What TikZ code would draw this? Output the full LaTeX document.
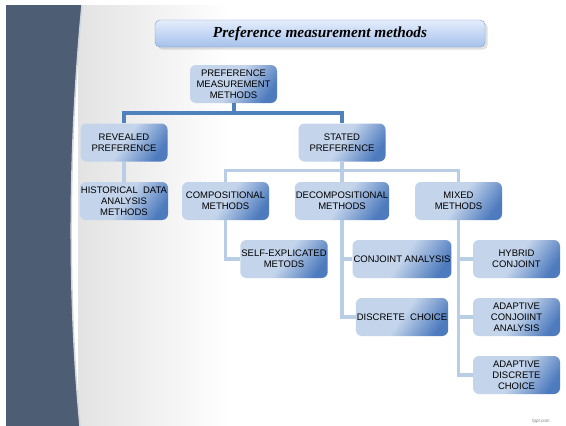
\documentclass[tikz,border=0pt]{standalone}
\usepackage{fontspec}
\setmainfont{Liberation Sans}
\newfontfamily\titlefont{Liberation Serif}
\usetikzlibrary{positioning, calc, shadows}

\definecolor{boxlight}{HTML}{C3D4EB}
\definecolor{boxdark}{HTML}{4E7BBE}
\definecolor{mainblue}{HTML}{4F81BD}
\definecolor{paleblue}{HTML}{B9CDE5}
\definecolor{slate}{HTML}{4D5D73}
\definecolor{titletop}{HTML}{E4EDFC}
\definecolor{titlebottom}{HTML}{A6C1EC}
\definecolor{titleedge}{HTML}{7C9DCB}

\pgfdeclarehorizontalshading{boxshade}{100bp}{color(0bp)=(boxlight); color(50bp)=(boxlight); color(76bp)=(boxdark); color(100bp)=(boxdark)}

\tikzset{
  methodbox/.style={shade, shading=boxshade, shading angle=-35, rounded corners=6pt,
    minimum width=87pt, minimum height=38pt, inner sep=1pt, align=center,
    font=\fontsize{9.5}{11}\selectfont},
  mainlink/.style={draw=mainblue, line width=4pt},
  sublink/.style={draw=paleblue, line width=3.5pt},
}

\begin{document}
\begin{tikzpicture}[x=1pt, y=-1pt]
  \useasboundingbox (0,0) rectangle (566,426);

  % Background band and faded page
  \fill[white] (0,0) rectangle (566,426);
  \shade[left color=gray!22, right color=white] (78,5) -- (230,5) -- (230,426) -- (78,426) -- cycle;
  \fill[slate] (6,5) -- (82,5) .. controls (68,150) and (68,300) .. (80,426) -- (6,426) -- cycle;
  \draw[white!75!slate, line width=1.5pt] (82,5) .. controls (68,150) and (68,300) .. (80,426);

  % Title
  \node[rounded corners=5pt, top color=titletop, bottom color=titlebottom, draw=titleedge,
    drop shadow={opacity=0.25}, minimum width=330pt, minimum height=27pt,
    font=\titlefont\bfseries\itshape\fontsize{15.3}{17}\selectfont]
    (title) at (320,33.5) {Preference measurement methods};

  % Boxes
  \node[methodbox] (root) at (233.5,84) {PREFERENCE\\MEASUREMENT\\METHODS};
  \node[methodbox] (revealed) at (124,142.5) {REVEALED\\PREFERENCE};
  \node[methodbox] (stated) at (342,142.5) {STATED\\PREFERENCE};
  \node[methodbox] (historical) at (124,201) {HISTORICAL~~DATA\\ANALYSIS\\METHODS};
  \node[methodbox] (compositional) at (225.5,201) {COMPOSITIONAL\\METHODS};
  \node[methodbox] (decompositional) at (342,201) {DECOMPOSITIONAL\\METHODS};
  \node[methodbox] (mixed) at (458.5,201) {MIXED\\METHODS};
  \node[methodbox] (selfexp) at (284,259) {SELF-EXPLICATED\\METODS};
  \node[methodbox] (conjoint) at (402,259) {CONJOINT ANALYSIS};
  \node[methodbox] (discrete) at (402,317) {DISCRETE~~CHOICE};
  \node[methodbox] (hybrid) at (516.5,259) {HYBRID\\CONJOINT};
  \node[methodbox] (adaptconj) at (516.5,317) {ADAPTIVE\\CONJOIINT\\ANALYSIS};
  \node[methodbox] (adaptdisc) at (516.5,375) {ADAPTIVE\\DISCRETE\\CHOICE};

  % Top level links
  \coordinate (rootjoin) at ($(root.south)+(0,10)$);
  \draw[mainlink] (root.south) -- (rootjoin);
  \draw[mainlink] (revealed.north) |- (rootjoin) -| (stated.north);

  % Lower links
  \draw[sublink] (revealed.south) -- (historical.north);
  \coordinate (statedjoin) at ($(stated.south)+(0,9)$);
  \draw[sublink] (stated.south) -- (decompositional.north);
  \draw[sublink] (compositional.north) |- (statedjoin) -| (mixed.north);
  \draw[sublink] (compositional.south) |- (selfexp.west);
  \draw[sublink] (decompositional.south) |- (conjoint.west);
  \draw[sublink] (decompositional.south) |- (discrete.west);
  \draw[sublink] (mixed.south) |- (hybrid.west);
  \draw[sublink] (mixed.south) |- (adaptconj.west);
  \draw[sublink] (mixed.south) |- (adaptdisc.west);

  \node[gray, font=\fontsize{4.5}{5}\selectfont] (brand) at (541,421) {fppt.com};
\end{tikzpicture}
\end{document}
